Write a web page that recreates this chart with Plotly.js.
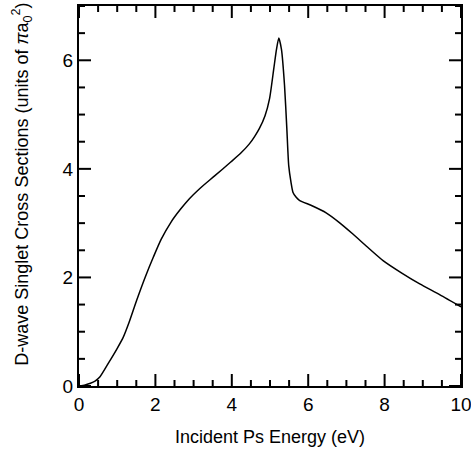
<!DOCTYPE html>
<html>
<head>
<meta charset="utf-8">
<script src="https://cdn.plot.ly/plotly-3.0.1.min.js"></script>
<style>html,body{margin:0;padding:0;background:#fff;}#chart{width:471px;height:449px;}</style>
</head>
<body>
<div id="chart"></div>
<script>
const energy = [0, 0.16, 0.3, 0.42, 0.55, 0.77, 0.99, 1.16, 1.3, 1.51, 1.73, 1.95, 2.15, 2.41, 2.65, 2.89, 3.15, 3.55, 3.98, 4.25, 4.46, 4.6, 4.72, 4.87, 4.99, 5.1, 5.17, 5.23, 5.3, 5.38, 5.44, 5.49, 5.55, 5.6, 5.68, 5.77, 6.1, 6.47, 6.8, 7.17, 7.55, 7.96, 8.45, 8.92, 9.45, 10.0];
const crossSection = [0, 0.02, 0.05, 0.09, 0.17, 0.42, 0.68, 0.9, 1.15, 1.58, 2.0, 2.38, 2.7, 3.02, 3.25, 3.45, 3.63, 3.87, 4.13, 4.3, 4.46, 4.6, 4.74, 4.98, 5.3, 5.85, 6.2, 6.41, 6.2, 5.54, 4.75, 4.06, 3.75, 3.57, 3.48, 3.42, 3.32, 3.19, 3.02, 2.8, 2.56, 2.31, 2.08, 1.88, 1.68, 1.46];
const xRange = [0, 10];
const yRange = [0, 7];
const majorStep = 2;
const minorStep = 0.5;

const W = 471, H = 449;
const M = {l: 79, r: 10, t: 6, b: 63};
const fontFamily = 'Liberation Sans, Arial, sans-serif';

const pxX = (W - M.l - M.r) / (xRange[1] - xRange[0]);
const pxY = (H - M.t - M.b) / (yRange[1] - yRange[0]);
const majorLen = 12, minorLen = 6;
const tx = [], ty = [];
function isMajor(v) { return Math.abs(v / majorStep - Math.round(v / majorStep)) < 1e-9; }
for (let i = 0; xRange[0] + i * minorStep <= xRange[1] + 1e-9; i++) {
  const v = xRange[0] + i * minorStep;
  const L = (isMajor(v) ? majorLen : minorLen) / pxY;
  tx.push(v, v, null, v, v, null);
  ty.push(yRange[0], yRange[0] + L, null, yRange[1], yRange[1] - L, null);
}
for (let i = 0; yRange[0] + i * minorStep <= yRange[1] + 1e-9; i++) {
  const v = yRange[0] + i * minorStep;
  const L = (isMajor(v) ? majorLen : minorLen) / pxX;
  tx.push(xRange[0], xRange[0] + L, null, xRange[1], xRange[1] - L, null);
  ty.push(v, v, null, v, v, null);
}

const traces = [
  {x: tx, y: ty, type: 'scatter', mode: 'lines', connectgaps: false, cliponaxis: false,
   line: {color: '#000', width: 2}, hoverinfo: 'skip', showlegend: false},
  {x: energy, y: crossSection, type: 'scatter', mode: 'lines',
   line: {color: '#000', width: 1.5, shape: 'spline', smoothing: 0.6},
   hoverinfo: 'skip', showlegend: false}
];

function mainAxis(range, extra) {
  return Object.assign({
    range: range, tickmode: 'linear', tick0: 0, dtick: majorStep,
    showgrid: false, zeroline: false, showline: true, mirror: true,
    linecolor: '#000', linewidth: 2, ticks: '',
    tickfont: {family: fontFamily, size: 19, color: '#000'}, ticklabeloverflow: 'allow'
  }, extra);
}

const layout = {
  width: W, height: H,
  margin: M,
  paper_bgcolor: '#fff', plot_bgcolor: '#fff',
  xaxis: mainAxis(xRange, {title: {text: 'Incident Ps Energy (eV)', font: {family: fontFamily, size: 18, color: '#000'}, standoff: 17}}),
  yaxis: mainAxis(yRange, {}),
  annotations: [{
    text: 'D-wave Singlet Cross Sections (units of <i>π</i>a<sub>0</sub><sup>2</sup>)',
    xref: 'paper', yref: 'paper', x: -0.149, y: 0.53,
    xanchor: 'center', yanchor: 'middle', textangle: -90, showarrow: false,
    font: {family: fontFamily, size: 18, color: '#000'}
  }]
};

Plotly.newPlot('chart', traces, layout, {displayModeBar: false, staticPlot: true});
</script>
</body>
</html>
